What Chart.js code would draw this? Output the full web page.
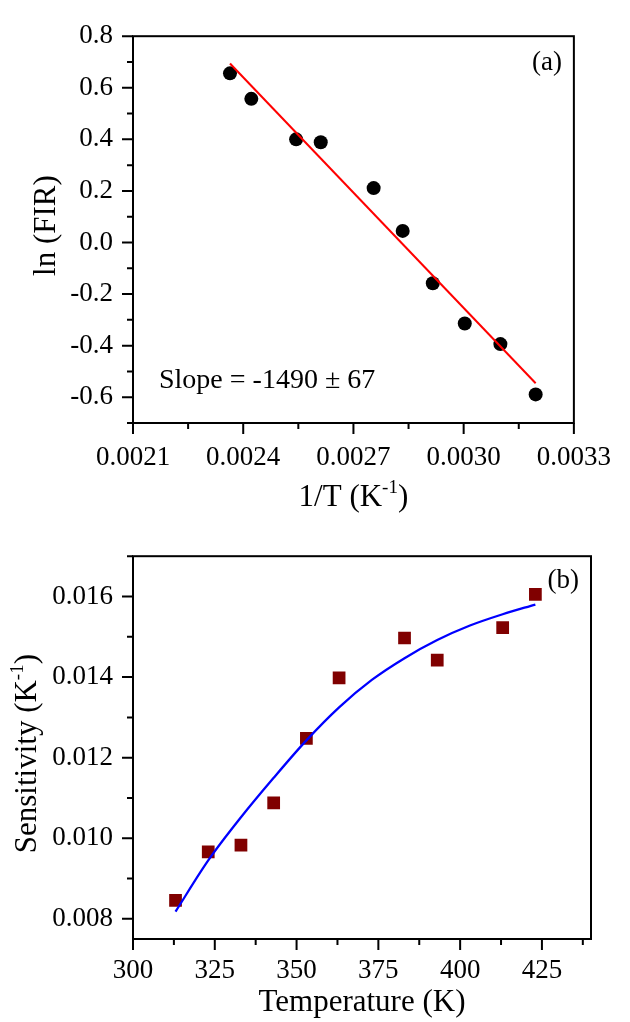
<!DOCTYPE html>
<html>
<head>
<meta charset="utf-8">
<script src="https://cdn.jsdelivr.net/npm/chart.js@4.4.1/dist/chart.umd.min.js"></script>
<style>
  html, body { margin: 0; padding: 0; background: #fff; }
  #wrapA { position: absolute; left: 0; top: 0; width: 630px; height: 520px; }
  #wrapB { position: absolute; left: 0; top: 520px; width: 630px; height: 502px; }
</style>
</head>
<body>
<div id="wrapA"><canvas id="chartA"></canvas></div>
<div id="wrapB"><canvas id="chartB"></canvas></div>
<script>
// (a) ln(FIR) vs 1/T
const invT = [0.002364, 0.002422, 0.002544, 0.002611, 0.002755, 0.002834, 0.002916, 0.003003, 0.003100, 0.003196];
const lnFIR = [0.656, 0.557, 0.400, 0.389, 0.211, 0.045, -0.158, -0.314, -0.394, -0.589];
const fitX = [0.002364, 0.003196];
const fitY = [0.694, -0.546];
const aXMajor = [0.0021, 0.0024, 0.0027, 0.0030, 0.0033];
const aXMinor = [0.00225, 0.00255, 0.00285, 0.00315];
const aYMajor = [-0.6, -0.4, -0.2, 0.0, 0.2, 0.4, 0.6, 0.8];
const aYMinor = [-0.7, -0.5, -0.3, -0.1, 0.1, 0.3, 0.5, 0.7];

// (b) sensitivity vs temperature
const temps = [313, 323, 333, 343, 353, 363, 383, 393, 413, 423];
const sens = [0.00846, 0.00966, 0.00983, 0.01088, 0.01248, 0.01398, 0.01497, 0.01442, 0.01523, 0.01605];
const curveT = [313, 323, 333, 343, 353, 363, 373, 383, 393, 403, 413, 423];
const curveS = [0.00818, 0.00945, 0.01052, 0.01150, 0.01243, 0.01325, 0.01393, 0.01447, 0.01492, 0.01528, 0.01556, 0.01580];
const bXMajor = [300, 325, 350, 375, 400, 425];
const bXMinor = [312.5, 337.5, 362.5, 387.5, 412.5, 437.5];
const bYMajor = [0.008, 0.010, 0.012, 0.014, 0.016];
const bYMinor = [0.009, 0.011, 0.013, 0.015, 0.017];

const SERIF = "'Liberation Serif', 'Times New Roman', serif";
const tickFont = { family: SERIF, size: 27 };

function pts(xs, ys) {
  return xs.map((x, i) => ({ x, y: ys[i] }));
}

// draw text made of normal / superscript parts, centred on (cx, cy)
function drawParts(ctx, parts, cx, cy, size, rotate) {
  const sup = Math.round(size * 0.6);
  let w = 0;
  parts.forEach(p => {
    ctx.font = `${p.sup ? sup : size}px ${SERIF}`;
    p.w = ctx.measureText(p.t).width;
    w += p.w;
  });
  ctx.save();
  ctx.translate(cx, cy);
  if (rotate) ctx.rotate(-Math.PI / 2);
  ctx.textBaseline = 'middle';
  ctx.textAlign = 'left';
  let x = -w / 2;
  parts.forEach(p => {
    ctx.font = `${p.sup ? sup : size}px ${SERIF}`;
    ctx.fillText(p.t, x, p.sup ? -size * 0.33 : 0);
    x += p.w;
  });
  ctx.restore();
}

const frameTicks = {
  id: 'frameTicks',
  afterDraw(chart, args, o) {
    const { ctx, chartArea: a, scales: { x, y } } = chart;
    ctx.save();
    ctx.strokeStyle = '#000';
    ctx.fillStyle = '#000';
    ctx.lineWidth = 2;
    ctx.strokeRect(a.left, a.top, a.right - a.left, a.bottom - a.top);
    ctx.beginPath();
    const xt = (vals, len) => vals.forEach(v => {
      const p = x.getPixelForValue(v);
      ctx.moveTo(p, a.bottom); ctx.lineTo(p, a.bottom + len);
    });
    const yt = (vals, len) => vals.forEach(v => {
      const p = y.getPixelForValue(v);
      ctx.moveTo(a.left, p); ctx.lineTo(a.left - len, p);
    });
    xt(o.xMajor, 11); xt(o.xMinor, 6);
    yt(o.yMajor, 11); yt(o.yMinor, 6);
    ctx.stroke();

    drawParts(ctx, o.xTitle, (a.left + a.right) / 2, a.bottom + o.xTitleOff, 31, false);
    drawParts(ctx, o.yTitle, o.yTitleX, (a.top + a.bottom) / 2 + o.yTitleShift, 31, true);

    ctx.font = `27px ${SERIF}`;
    ctx.textAlign = 'right';
    ctx.textBaseline = 'middle';
    ctx.fillText(o.tag, a.right - 12, a.top + o.tagOff);
    if (o.note) {
      ctx.font = `28px ${SERIF}`;
      ctx.textAlign = 'left';
      ctx.textBaseline = 'alphabetic';
      ctx.fillText(o.note, a.left + 26, a.top + 352);
    }
    ctx.restore();
  },
};

function axis(min, max, major, fmt, pad, fit) {
  return {
    type: 'linear',
    min, max,
    afterBuildTicks: s => { s.ticks = major.map(v => ({ value: v })); },
    afterFit: fit,
    grid: { display: false, drawTicks: false },
    border: { display: false },
    ticks: { callback: fmt, font: tickFont, color: '#000', padding: pad, autoSkip: false, maxRotation: 0 },
  };
}

Chart.defaults.animation = false;

new Chart(document.getElementById('chartA'), {
  type: 'scatter',
  data: {
    datasets: [
      {
        label: 'fit',
        data: pts(fitX, fitY),
        showLine: true,
        borderColor: '#ff0000',
        borderWidth: 2,
        pointRadius: 0,
      },
      {
        label: 'ln(FIR)',
        data: pts(invT, lnFIR),
        backgroundColor: '#000',
        borderWidth: 0,
        pointRadius: 7,
      },
    ],
  },
  options: {
    responsive: true,
    maintainAspectRatio: false,
    layout: { padding: { top: 25, right: 39, left: 0, bottom: 0 } },
    plugins: {
      legend: { display: false },
      tooltip: { enabled: false },
      frameTicks: {
        xMajor: aXMajor, xMinor: aXMinor, yMajor: aYMajor, yMinor: aYMinor,
        xTitle: [{ t: '1/T (K' }, { t: '-1', sup: true }, { t: ')' }],
        xTitleOff: 75,
        yTitle: [{ t: 'ln (FIR)' }],
        yTitleX: 47, yTitleShift: -4,
        tag: '(a)', tagOff: 27,
        note: 'Slope = -1490 \u00b1 67',
      },
    },
    scales: {
      x: axis(0.0021, 0.0033, aXMajor, v => v.toFixed(4), 19, s => { s.height = 97; }),
      y: axis(-0.7, 0.8, aYMajor, v => v.toFixed(1), 20, s => { s.width = 133; }),
    },
  },
  plugins: [frameTicks],
});

new Chart(document.getElementById('chartB'), {
  type: 'scatter',
  data: {
    datasets: [
      {
        label: 'fit',
        data: pts(curveT, curveS),
        showLine: true,
        borderColor: '#0000ff',
        borderWidth: 2.3,
        cubicInterpolationMode: 'monotone',
        pointRadius: 0,
      },
      {
        label: 'Sensitivity',
        data: pts(temps, sens),
        pointStyle: 'rect',
        backgroundColor: '#800000',
        borderColor: '#800000',
        borderWidth: 0,
        pointRadius: 9,
      },
    ],
  },
  options: {
    responsive: true,
    maintainAspectRatio: false,
    layout: { padding: { top: 20, right: 39, left: 0, bottom: 0 } },
    plugins: {
      legend: { display: false },
      tooltip: { enabled: false },
      frameTicks: {
        xMajor: bXMajor, xMinor: bXMinor, yMajor: bYMajor, yMinor: bYMinor,
        xTitle: [{ t: 'Temperature (K)' }],
        xTitleOff: 64,
        yTitle: [{ t: 'Sensitivity (K' }, { t: '-1', sup: true }, { t: ')' }],
        yTitleX: 28, yTitleShift: 6,
        tag: '(b)', tagOff: 25,
      },
    },
    scales: {
      x: axis(300, 440, bXMajor, v => v.toFixed(0), 16, s => { s.height = 83; }),
      y: axis(0.0075, 0.017, bYMajor, v => v.toFixed(3), 20, s => { s.width = 133; }),
    },
  },
  plugins: [frameTicks],
});
</script>
</body>
</html>
